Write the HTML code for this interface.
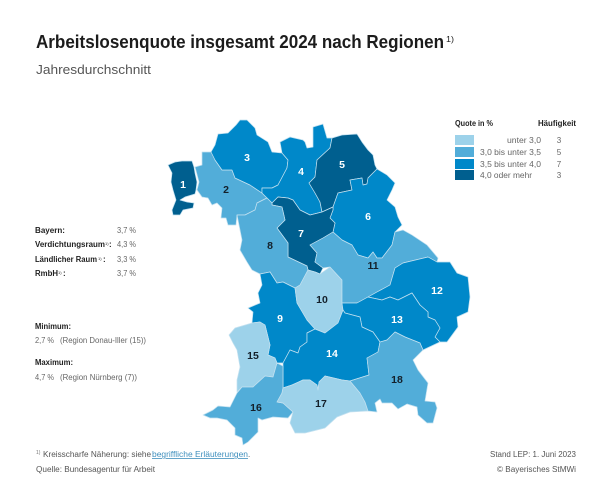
<!DOCTYPE html>
<html lang="de">
<head>
<meta charset="utf-8">
<title>Arbeitslosenquote insgesamt 2024 nach Regionen</title>
<style>
html,body{margin:0;padding:0;background:#fff;}
svg{display:block;font-family:"Liberation Sans",sans-serif;}
.s{font-size:8px;fill:#555;}
.b{font-size:8px;fill:#222;font-weight:bold;}
.n{font-size:8px;fill:#666;}
</style>
</head>
<body>
<svg id="chart" width="600" height="503" viewBox="0 0 600 503" xmlns="http://www.w3.org/2000/svg">
<rect width="600" height="503" fill="#fff"/>
<text x="36" y="48" font-size="18" font-weight="bold" fill="#1c1c1c" textLength="408" lengthAdjust="spacingAndGlyphs">Arbeitslosenquote insgesamt 2024 nach Regionen</text>
<text x="446" y="42" font-size="8" fill="#1c1c1c" textLength="8" lengthAdjust="spacingAndGlyphs">1)</text>
<text x="36" y="74" font-size="13" fill="#555" textLength="115" lengthAdjust="spacingAndGlyphs">Jahresdurchschnitt</text>

<g id="map"></g>

<g>
<text class="b" x="35" y="233" textLength="30" lengthAdjust="spacingAndGlyphs">Bayern:</text>
<text class="n" x="117" y="233" textLength="19" lengthAdjust="spacingAndGlyphs">3,7 %</text>
<text class="b" x="35" y="247" textLength="70" lengthAdjust="spacingAndGlyphs">Verdichtungsraum</text>
<text class="b" x="105" y="245" style="font-size:4px;font-weight:normal">1)</text>
<text class="b" x="109" y="247">:</text>
<text class="n" x="117" y="247" textLength="19" lengthAdjust="spacingAndGlyphs">4,3 %</text>
<text class="b" x="35" y="262" textLength="62" lengthAdjust="spacingAndGlyphs">Ländlicher Raum</text>
<text class="b" x="98" y="260" style="font-size:4px;font-weight:normal">1)</text>
<text class="b" x="103" y="262">:</text>
<text class="n" x="117" y="262" textLength="19" lengthAdjust="spacingAndGlyphs">3,3 %</text>
<text class="b" x="35" y="276" textLength="23" lengthAdjust="spacingAndGlyphs">RmbH</text>
<text class="b" x="58" y="274" style="font-size:4px;font-weight:normal">1)</text>
<text class="b" x="63" y="276">:</text>
<text class="n" x="117" y="276" textLength="19" lengthAdjust="spacingAndGlyphs">3,7 %</text>
<text class="b" x="35" y="329" textLength="36" lengthAdjust="spacingAndGlyphs">Minimum:</text>
<text class="n" x="35" y="343" textLength="19" lengthAdjust="spacingAndGlyphs">2,7 %</text>
<text class="n" x="60" y="343" textLength="86" lengthAdjust="spacingAndGlyphs">(Region Donau-Iller (15))</text>
<text class="b" x="35" y="365" textLength="38" lengthAdjust="spacingAndGlyphs">Maximum:</text>
<text class="n" x="35" y="380" textLength="19" lengthAdjust="spacingAndGlyphs">4,7 %</text>
<text class="n" x="60" y="380" textLength="77" lengthAdjust="spacingAndGlyphs">(Region Nürnberg (7))</text>
</g>

<g id="legend">
<text class="b" x="455" y="126" textLength="38" lengthAdjust="spacingAndGlyphs">Quote in %</text>
<text class="b" x="538" y="126" textLength="38" lengthAdjust="spacingAndGlyphs">Häufigkeit</text>
</g>

<g>
<text x="36" y="454" font-size="5" fill="#777">1)</text>
<text class="s" x="43" y="457" textLength="108" lengthAdjust="spacingAndGlyphs">Kreisscharfe Näherung: siehe</text>
<a><text x="152" y="457" font-size="8" fill="#3f8fbd" text-decoration="underline" textLength="96" lengthAdjust="spacingAndGlyphs">begriffliche Erläuterungen</text></a>
<text class="s" x="248" y="457">.</text>
<text class="s" x="36" y="472" textLength="119" lengthAdjust="spacingAndGlyphs">Quelle: Bundesagentur für Arbeit</text>
<text class="s" x="490" y="457" textLength="86" lengthAdjust="spacingAndGlyphs">Stand LEP: 1. Juni 2023</text>
<text class="s" x="497" y="472" textLength="79" lengthAdjust="spacingAndGlyphs">© Bayerisches StMWi</text>
</g>

<script>
// Data (class is exact, individual rates are estimates)
const regionIds = [1,2,3,4,5,6,7,8,9,10,11,12,13,14,15,16,17,18];
const regionValues = [4.2,3.3,3.8,3.9,4.1,3.7,4.7,3.4,3.6,2.9,3.2,3.6,3.6,3.7,2.7,3.3,2.8,3.2];
const classBreaks = [3.0,3.5,4.0];
const classColors = ['#9dd2ea','#52add9','#0088c9','#005f8f'];
const legendRanges = ['unter 3,0','3,0 bis unter 3,5','3,5 bis unter 4,0','4,0 oder mehr'];
const legendCounts = [3,5,7,3];

// Region outlines (map geometry)
const regionOutlines = {
1:"168,165 175,162 182,161 192,161 194,167 195,173 197,182 196,190 195,194 185,197 180,200 187,202 194,203 193,208 183,210 180,215 173,215 172,210 176,200 173,190 171,182 172,173",
2:"195,167 202,165 202,152 212,152 215,160 222,170 232,170 235,178 250,185 262,193 267,198 257,203 255,210 245,215 237,215 236,225 228,225 226,218 221,218 222,208 217,203 212,205 208,198 202,197 197,190 199,182",
3:"211,152 215,145 218,134 228,133 236,125 240,120 247,120 255,128 257,135 268,142 272,152 282,153 288,160 287,168 278,185 272,188 262,188 262,193 250,185 235,178 232,170 222,170 215,160",
4:"280,142 290,137 303,140 305,142 307,148 313,147 313,127 323,124 327,138 332,138 330,148 317,160 315,177 309,183 315,193 320,202 322,212 310,215 300,210 293,200 288,198 278,197 272,203 267,198 262,193 262,188 272,188 278,185 287,168 288,160 282,153",
5:"332,138 342,135 357,134 362,142 368,150 373,155 375,165 377,169 368,178 367,184 363,185 362,178 350,180 352,190 338,193 333,207 322,212 320,202 315,193 309,183 315,177 317,160 330,148",
6:"377,169 387,175 395,183 392,190 387,200 395,207 398,217 402,225 395,232 392,245 382,258 377,258 373,252 368,258 358,255 352,245 342,240 333,232 335,223 330,218 333,210 333,207 338,193 352,190 350,180 362,178 363,185 367,184 368,178",
7:"272,203 278,197 288,198 293,200 300,210 310,215 322,212 333,207 333,210 330,218 335,223 333,232 323,238 310,245 317,253 315,262 323,268 320,274 315,272 308,270 307,266 288,257 288,243 277,228 285,220 282,207 272,205",
8:"237,215 245,215 255,210 257,203 267,198 272,203 272,205 282,207 285,220 277,228 288,243 288,257 307,266 308,270 300,285 295,288 283,282 277,283 270,272 260,274 252,270 247,262 240,250 242,240",
9:"260,274 270,272 277,283 283,282 295,288 297,303 307,320 315,329 307,333 307,342 300,347 298,353 290,350 283,363 277,363 275,358 268,355 270,345 265,325 260,322 252,323 253,312 248,308 260,303 258,293 262,285",
10:"295,288 300,285 308,270 315,272 320,274 330,267 342,280 342,303 343,310 338,323 325,333 315,329 307,320 297,303",
11:"333,232 342,240 352,245 358,255 368,258 373,252 377,258 382,258 392,245 395,232 403,230 412,235 427,245 438,258 437,262 428,257 403,263 395,268 390,285 377,292 368,297 357,303 342,303 342,280 330,267 323,268 315,262 317,253 310,245 323,238",
12:"395,268 403,263 428,257 437,262 450,262 457,273 468,277 470,297 468,312 457,317 458,327 447,342 440,342 435,337 440,328 435,320 428,317 428,312 420,305 412,293 398,300 390,297 382,300 368,297 377,292 390,285",
13:"342,303 357,303 368,297 382,300 390,297 398,300 412,293 420,305 428,312 428,317 435,320 440,328 435,337 440,342 423,350 420,343 405,337 395,332 387,340 380,342 373,332 362,327 360,317 345,313 343,310",
14:"315,329 325,333 338,323 343,310 345,313 360,317 362,327 373,332 380,342 378,352 367,358 369,375 350,381 342,380 325,376 319,382 318,390 317,385 310,380 303,380 292,385 283,388 283,363 290,350 298,353 300,347 307,342 307,333",
15:"229,335 235,328 252,323 260,322 265,325 270,345 268,355 275,358 277,363 273,377 265,376 253,387 242,387 237,392 237,380 240,367 237,350 233,343",
16:"237,393 242,387 253,387 265,376 273,377 277,363 283,366 283,388 282,393 277,402 283,403 293,412 288,418 273,417 262,420 258,418 258,432 248,442 243,445 242,438 235,435 235,428 227,420 217,418 210,418 203,415 213,410 218,406 230,407",
17:"283,388 292,385 303,380 310,380 317,385 318,390 319,382 325,376 342,380 350,381 360,393 365,402 368,411 350,412 337,417 325,428 313,431 305,433 295,433 290,423 293,412 283,403 277,402 282,393",
18:"378,352 380,342 387,340 395,332 405,337 420,343 423,350 413,360 418,370 428,383 425,401 435,402 437,408 433,423 427,423 418,415 417,407 407,404 398,409 392,403 382,403 380,399 375,403 377,412 368,411 365,402 360,393 350,381 369,375 367,358"
};
const labelAnchors = {
1:[183,184],2:[226,189],3:[247,157],4:[301,171],5:[342,164],6:[368,216],7:[301,233],8:[270,245],9:[280,318],
10:[322,299],11:[373,265],12:[437,290],13:[397,319],14:[332,353],15:[253,355],16:[256,407],17:[321,403],18:[397,379]
};

const NS = 'http://www.w3.org/2000/svg';
function classOf(value){
  let i = 0;
  while (i < classBreaks.length && value >= classBreaks[i]) i++;
  return i;
}
const map = document.getElementById('map');
regionIds.forEach(function(id, i){
  const cls = classOf(regionValues[i]);
  const poly = document.createElementNS(NS, 'polygon');
  poly.setAttribute('points', regionOutlines[id]);
  poly.setAttribute('fill', classColors[cls]);
  poly.setAttribute('stroke', '#c4e1f0');
  poly.setAttribute('stroke-width', '0.7');
  poly.setAttribute('stroke-linejoin', 'round');
  
  
  map.appendChild(poly);
});
regionIds.forEach(function(id, i){
  const cls = classOf(regionValues[i]);
  const t = document.createElementNS(NS, 'text');
  t.setAttribute('x', labelAnchors[id][0]);
  t.setAttribute('y', labelAnchors[id][1] + 4);
  t.setAttribute('text-anchor', 'middle');
  t.setAttribute('font-size', '10.5');
  t.setAttribute('font-weight', 'bold');
  t.setAttribute('fill', cls >= 2 ? '#ffffff' : '#14202a');
  
  
  t.textContent = id;
  map.appendChild(t);
});

const legend = document.getElementById('legend');
const rowTop = [135,147,159,170];
const rowLeft = [507,480,480,480];
const rowWidth = [34,61,61,52];
legendRanges.forEach(function(label, i){
  const r = document.createElementNS(NS, 'rect');
  r.setAttribute('x', 455);
  r.setAttribute('y', rowTop[i]);
  r.setAttribute('width', 19);
  r.setAttribute('height', 10);
  r.setAttribute('fill', classColors[i]);
  
  
  legend.appendChild(r);
  const t = document.createElementNS(NS, 'text');
  t.setAttribute('class', 'n');
  t.setAttribute('x', rowLeft[i]);
  t.setAttribute('y', rowTop[i] + 8);
  t.setAttribute('textLength', rowWidth[i]);
  t.setAttribute('lengthAdjust', 'spacingAndGlyphs');
  
  
  t.textContent = label;
  legend.appendChild(t);
  const c = document.createElementNS(NS, 'text');
  c.setAttribute('class', 'n');
  c.setAttribute('x', 559);
  c.setAttribute('y', rowTop[i] + 8);
  c.setAttribute('text-anchor', 'middle');
  
  
  c.textContent = legendCounts[i];
  legend.appendChild(c);
});
</script>
</svg>
</body>
</html>
